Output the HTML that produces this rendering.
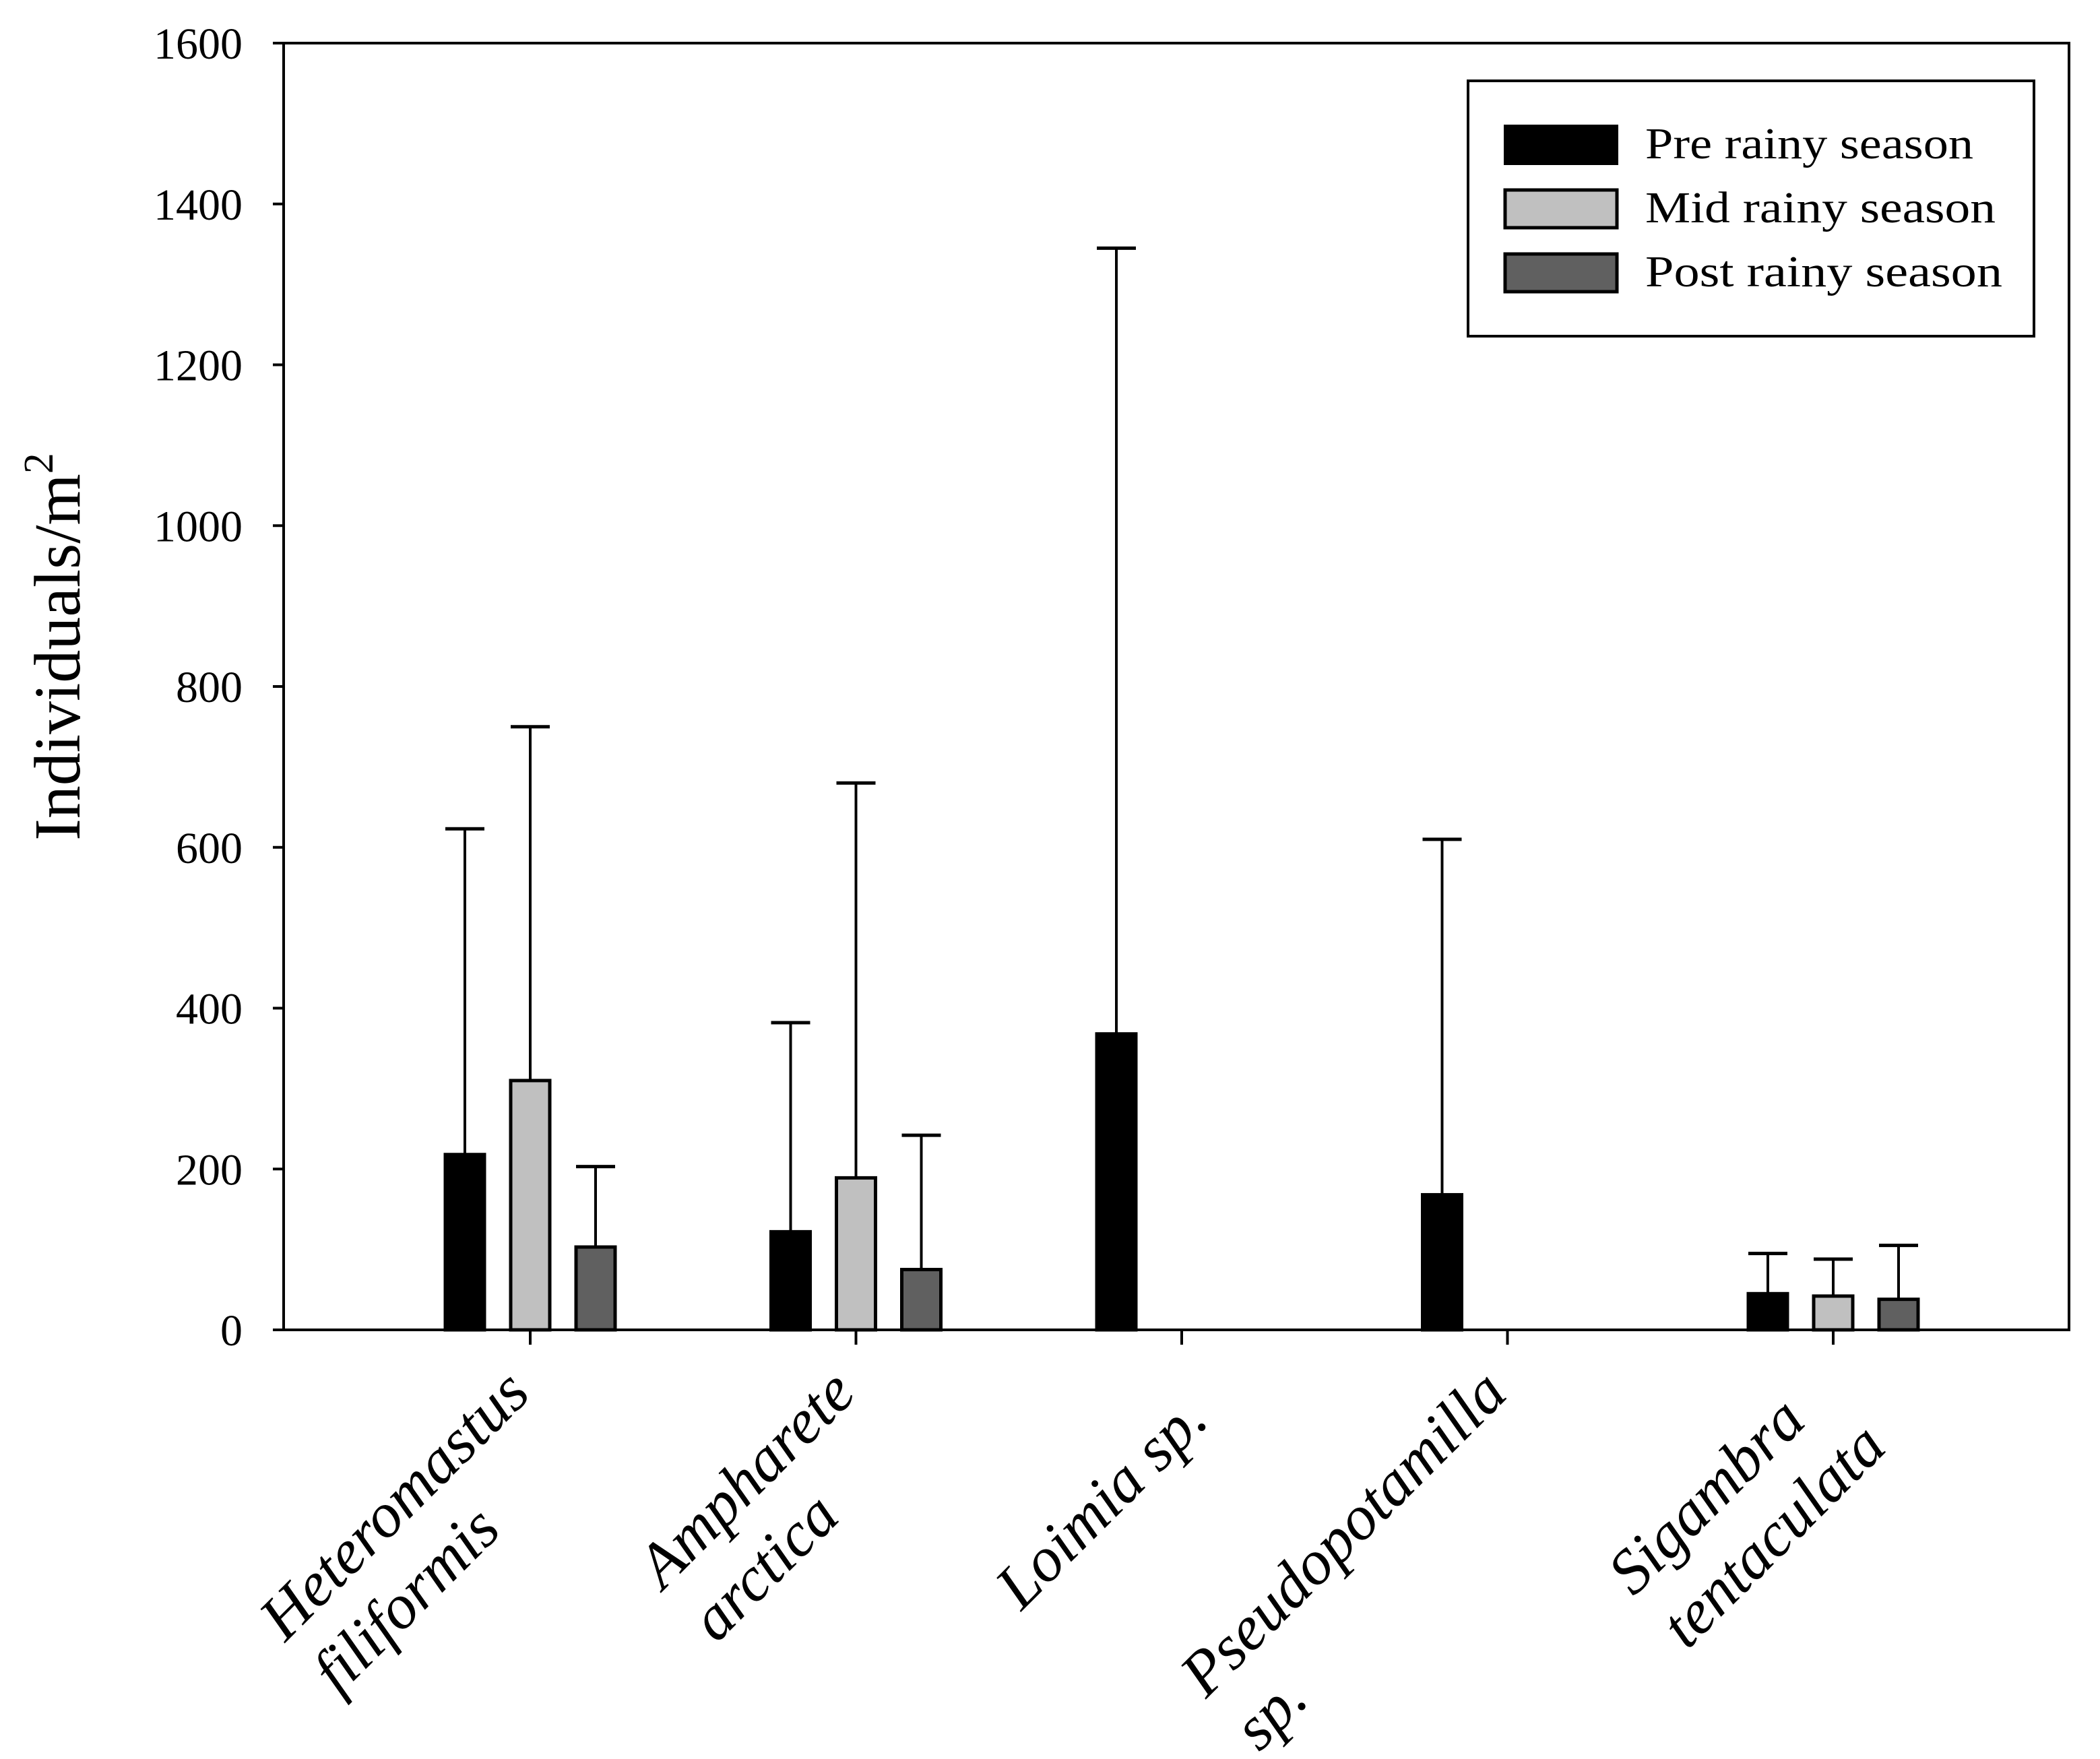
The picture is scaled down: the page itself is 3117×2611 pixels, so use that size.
<!DOCTYPE html>
<html><head><meta charset="utf-8"><style>
html,body{margin:0;padding:0;background:#fff;}
svg{display:block;}
text{font-family:"Liberation Serif",serif;fill:#000;}
</style></head><body>
<svg id="chart" width="3117" height="2611" viewBox="0 0 3117 2611" xmlns="http://www.w3.org/2000/svg">
<g id="plot"></g>
<g id="legend">
 <rect x="2179" y="120" width="840" height="379" fill="#fff" stroke="#000" stroke-width="4"/>
 <g><rect x="2234" y="187" width="166" height="56" fill="#000" stroke="#000" stroke-width="4"/><text x="2442" y="235" font-size="66" textLength="487" lengthAdjust="spacingAndGlyphs">Pre rainy season</text></g>
 <g><rect x="2234" y="282" width="166" height="56" fill="#c0c0c0" stroke="#000" stroke-width="5"/><text x="2442" y="330" font-size="66" textLength="520" lengthAdjust="spacingAndGlyphs">Mid rainy season</text></g>
 <g><rect x="2234" y="377" width="166" height="56" fill="#606060" stroke="#000" stroke-width="5"/><text x="2442" y="425" font-size="66" textLength="530" lengthAdjust="spacingAndGlyphs">Post rainy season</text></g>
</g>
<text font-size="98" text-anchor="middle" transform="translate(118,960) rotate(-90)">Individuals/m<tspan font-size="62" dy="-40">2</tspan></text>
</svg>
<script>
const categories = [["Heteromastus","filiformis"],["Ampharete","arctica"],["Loimia sp."],["Pseudopotamilla","sp."],["Sigambra","tentaculata"]];
const seriesNames = ["Pre rainy season","Mid rainy season","Post rainy season"];
const preValues = [218, 122, 368, 168, 45];
const midValues = [310, 189, 0, 0, 42];
const postValues = [103, 75, 0, 0, 38];
const preErr = [623, 382, 1345, 610, 95];
const midErr = [750, 680, 0, 0, 88];
const postErr = [203, 242, 0, 0, 105];
const yTicks = [0, 200, 400, 600, 800, 1000, 1200, 1400, 1600];

const NS = "http://www.w3.org/2000/svg";
const L = 421, R = 3071, T = 64, B = 1974;
const yMax = 1600;
function y(v){ return B - v / yMax * (B - T); }
const firstX = 787, step = 483.5;
function xC(i){ return firstX + i * step; }
const plot = document.getElementById('plot');
function mk(tag, attrs, parent){ const e = document.createElementNS(NS, tag); for (const k in attrs) e.setAttribute(k, attrs[k]); (parent||plot).appendChild(e); return e; }

const series = [preValues, midValues, postValues];
const errs = [preErr, midErr, postErr];
const fills = ["#000", "#c0c0c0", "#606060"];
const bw = 58, off = 97;
series.forEach((vals, s) => {
  vals.forEach((v, i) => {
    if (v <= 0) return;
    const cx = xC(i) + (s - 1) * off;
    const g = mk('g', {});
    
    
    const e = errs[s][i];
    mk('line', {x1: cx, x2: cx, y1: y(v), y2: y(e), stroke: '#000', 'stroke-width': 4}, g);
    mk('line', {x1: cx - bw/2, x2: cx + bw/2, y1: y(e), y2: y(e), stroke: '#000', 'stroke-width': 5}, g);
    mk('rect', {x: cx - bw/2, y: y(v), width: bw, height: B - y(v), fill: fills[s], stroke: '#000', 'stroke-width': 5}, g);
  });
});

const ax = mk('g', {});


mk('rect', {x: L, y: T, width: R - L, height: B - T, fill: 'none', stroke: '#000', 'stroke-width': 4}, ax);
yTicks.forEach(t => {
  mk('line', {x1: L - 16, x2: L, y1: y(t), y2: y(t), stroke: '#000', 'stroke-width': 4}, ax);
  const tx = mk('text', {x: 360, y: y(t) + 23, 'font-size': 66, 'text-anchor': 'end'}, ax);
  tx.textContent = t;
  
  
});
categories.forEach((c, i) => {
  mk('line', {x1: xC(i), x2: xC(i), y1: B, y2: B + 22, stroke: '#000', 'stroke-width': 4}, ax);
  const ax0 = xC(i) + 20, ay0 = B + 115;
  const g = mk('g', {transform: `translate(${ax0},${ay0}) rotate(-45)`}, ax);
  
  
  const lh = 112;
  const texts = c.map((line, j) => {
    const t = mk('text', {'font-size': 94, 'font-style': 'italic', 'text-anchor': 'start', y: (j - (c.length - 1) / 2) * lh + 32}, g);
    t.textContent = line;
    return t;
  });
  const maxW = Math.max(...texts.map(t => t.getComputedTextLength()));
  texts.forEach(t => t.setAttribute('x', -maxW));
});
</script>
</body></html>
